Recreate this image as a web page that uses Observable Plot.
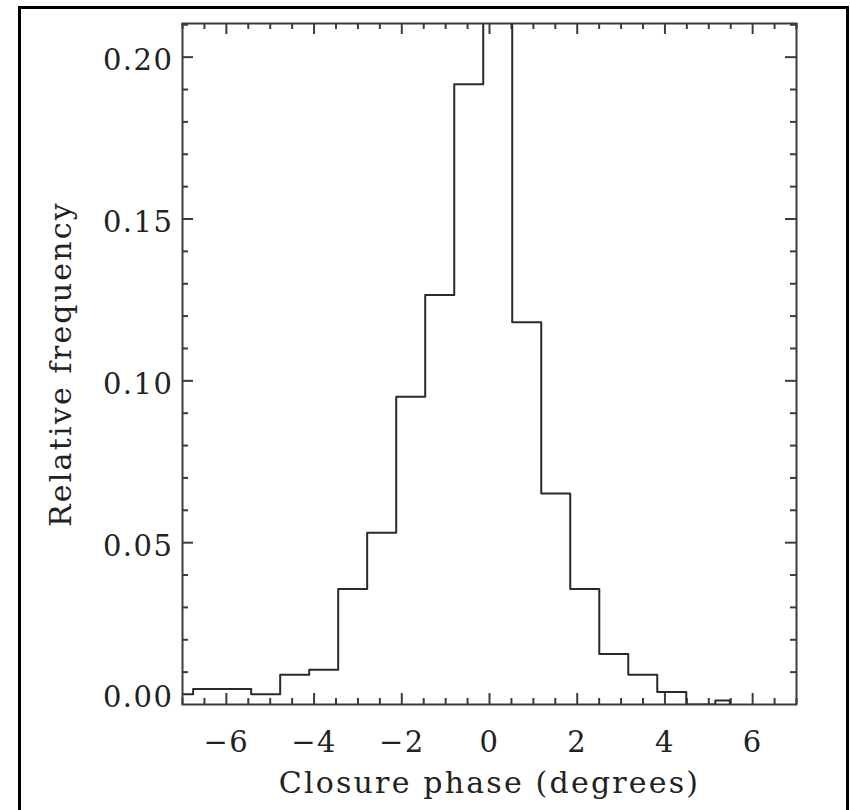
<!DOCTYPE html>
<html><head><meta charset="utf-8">
<script src="https://cdn.jsdelivr.net/npm/d3@7"></script>
<script src="https://cdn.jsdelivr.net/npm/@observablehq/plot@0.6"></script>
<style>
html,body{margin:0;padding:0;background:#fff;width:850px;height:810px;overflow:hidden;}
#border{position:absolute;left:18px;top:6px;width:831px;height:830px;border:3px solid #000;box-sizing:border-box;}
#chart{position:absolute;left:0;top:0;}
</style></head><body>
<div id="border"></div><div id="chart"></div>
<script>
// Histogram bin edges (degrees) and relative frequencies
const binEdges = [-7.418, -6.757, -6.096, -5.434, -4.773, -4.111, -3.450, -2.789, -2.127, -1.466, -0.804, -0.143, 0.518, 1.180, 1.841, 2.503, 3.164, 3.825, 4.487, 5.148, 5.480];
const relFreq  = [0.0032, 0.0048, 0.0048, 0.0032, 0.0092, 0.0107, 0.0357, 0.0531, 0.0951, 0.1265, 0.1916, 0.2130, 0.1181, 0.0652, 0.0357, 0.0156, 0.0092, 0.0039, 0.0000, 0.0012];

const xMajorTicks = [-6, -4, -2, 0, 2, 4, 6];
const xMinorTicks = [-7, -6.5, -5.5, -5, -4.5, -3.5, -3, -2.5, -1.5, -1, -0.5, 0.5, 1, 1.5, 2.5, 3, 3.5, 4.5, 5, 5.5, 6.5, 7];
const yMajorTicks = [0.05, 0.10, 0.15, 0.20];
const yZeroTick = [0];
const yMinorTicks = [0.01, 0.02, 0.03, 0.04, 0.06, 0.07, 0.08, 0.09, 0.11, 0.12, 0.13, 0.14, 0.16, 0.17, 0.18, 0.19, 0.21];
const xLabel = "Closure phase (degrees)";
const yLabel = "Relative frequency";

const steps = binEdges.map((x, i) => ({x, y: i < relFreq.length ? relFreq[i] : 0}));

const W = 850, H = 810;
const mL = 182, mR = 54, mT = 23, mB = 106;
const plotH = H - mT - mB, plotW = W - mL - mR;
const majorLen = 11, minorLen = 6;
const axisColor = "#3c3c3c";

const tickStyle = {stroke: axisColor, strokeWidth: 2};

const chart = Plot.plot({
  width: W, height: H,
  marginLeft: mL, marginRight: mR, marginTop: mT, marginBottom: mB,
  x: {domain: [-7, 7], axis: null},
  y: {domain: [0, 0.2104], axis: null},
  style: {fontFamily: "'DejaVu Serif', serif", fontSize: "29px", color: "#222", background: "transparent", letterSpacing: "1.5px"},
  marks: [
    // inward ticks, bottom & top
    Plot.tickX(xMajorTicks, {x: d => d, insetTop: plotH - majorLen, ...tickStyle}),
    Plot.tickX(xMajorTicks, {x: d => d, insetBottom: plotH - majorLen, ...tickStyle}),
    Plot.tickX(xMinorTicks, {x: d => d, insetTop: plotH - minorLen, ...tickStyle}),
    Plot.tickX(xMinorTicks, {x: d => d, insetBottom: plotH - minorLen, ...tickStyle}),
    // inward ticks, left & right
    Plot.tickY(yMajorTicks, {y: d => d, insetRight: plotW - majorLen, ...tickStyle}),
    Plot.tickY(yMajorTicks, {y: d => d, insetLeft: plotW - majorLen, ...tickStyle}),
    Plot.tickY(yMinorTicks, {y: d => d, insetRight: plotW - minorLen, ...tickStyle}),
    Plot.tickY(yMinorTicks, {y: d => d, insetLeft: plotW - minorLen, ...tickStyle}),
    // tick labels
    Plot.axisX(xMajorTicks, {anchor: "bottom", tickSize: 0, tickPadding: 27, label: null, tickFormat: d3.format("d")}),
    Plot.axisY(yMajorTicks, {anchor: "left", tickSize: 0, tickPadding: 9, label: null, tickFormat: d3.format(".2f"), dy: 4}),
    Plot.axisY(yZeroTick, {anchor: "left", tickSize: 0, tickPadding: 9, label: null, tickFormat: d3.format(".2f"), dy: -7}),
    // histogram outline
    Plot.line(steps, {x: "x", y: "y", curve: "step-after", clip: true, stroke: "#2a2a2a", strokeWidth: 2}),
    Plot.frame({stroke: axisColor, strokeWidth: 2}),
    // axis titles
    Plot.text([xLabel], {text: d => d, frameAnchor: "bottom", textAnchor: "middle", lineAnchor: "middle", dy: 79, fontSize: 30, fill: "#222"}),
    Plot.text([yLabel], {text: d => d, frameAnchor: "left", textAnchor: "middle", lineAnchor: "middle", rotate: -90, dx: -121, fontSize: 30, fill: "#222"})
  ]
});
d3.select(chart).selectAll("g[aria-label=text] text").style("letter-spacing", "2.2px");
document.getElementById("chart").appendChild(chart);
</script>
</body></html>
